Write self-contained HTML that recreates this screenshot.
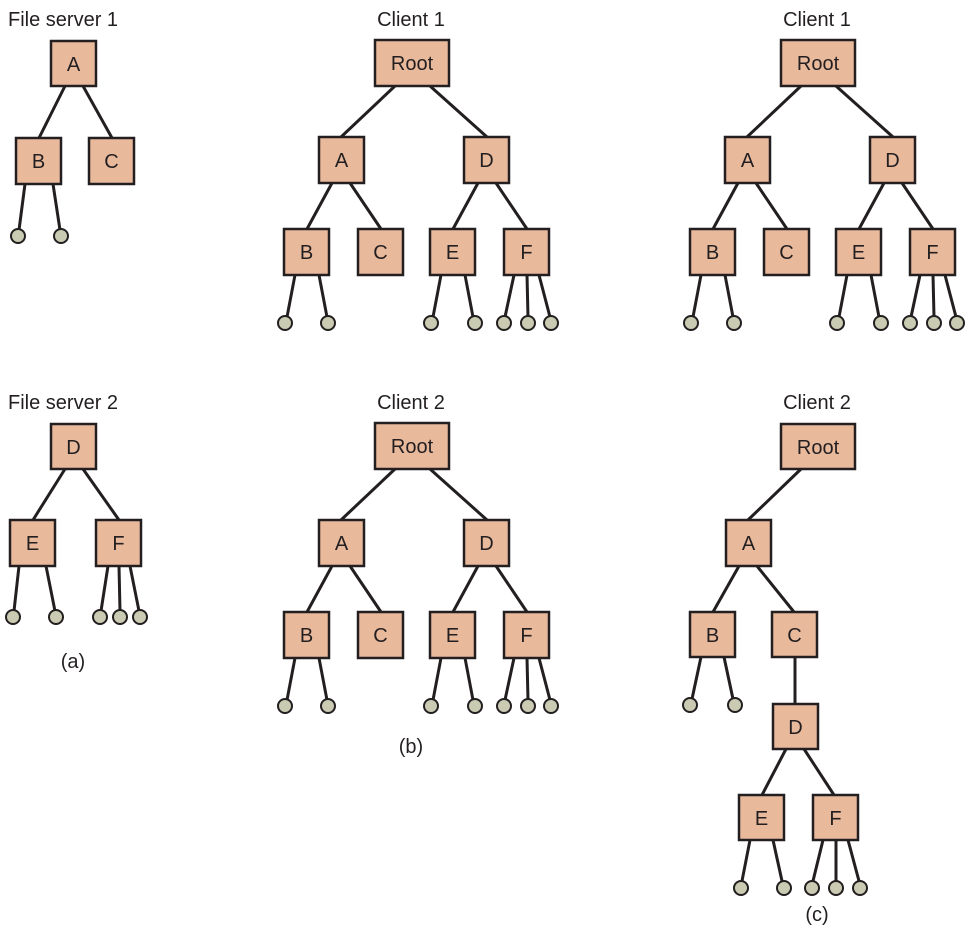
<!DOCTYPE html>
<html><head><meta charset="utf-8"><style>
html,body{margin:0;padding:0;background:#fff;}
svg{display:block;}
text{font-family:"Liberation Sans",sans-serif;font-size:20px;fill:#231f20;}
.b{fill:#e9b99c;stroke:#231f20;stroke-width:2.5;}
.l{stroke:#231f20;stroke-width:3;fill:none;}
.c{fill:#c9ccb2;stroke:#231f20;stroke-width:2;}
.t{text-anchor:middle;}
</style></head><body>
<svg width="970" height="940" viewBox="0 0 970 940" xmlns="http://www.w3.org/2000/svg">
<text x="8" y="26">File server 1</text>
<g>
<line class="l" x1="65" y1="86" x2="39" y2="138"/><line class="l" x1="83" y1="86" x2="112" y2="138"/>
<line class="l" x1="25" y1="184" x2="19" y2="230"/><line class="l" x1="53" y1="184" x2="60" y2="230"/>
<rect class="b" x="51" y="41" width="45" height="45"/><text class="t" x="73.5" y="71">A</text>
<rect class="b" x="16" y="138" width="45" height="46"/><text class="t" x="38.5" y="168">B</text>
<rect class="b" x="89" y="138" width="45" height="46"/><text class="t" x="111.5" y="168">C</text>
<circle class="c" cx="18" cy="236" r="7"/><circle class="c" cx="61" cy="236" r="7"/>
</g>
<text x="8" y="409">File server 2</text>
<g>
<line class="l" x1="65" y1="469" x2="33" y2="520"/><line class="l" x1="83" y1="469" x2="119" y2="520"/>
<line class="l" x1="19" y1="566" x2="14" y2="611"/><line class="l" x1="46" y1="566" x2="55" y2="611"/>
<line class="l" x1="108" y1="566" x2="101" y2="611"/><line class="l" x1="119" y1="566" x2="120" y2="611"/><line class="l" x1="130" y1="566" x2="139" y2="611"/>
<rect class="b" x="51" y="424" width="45" height="45"/><text class="t" x="73.5" y="454">D</text>
<rect class="b" x="10" y="520" width="45" height="46"/><text class="t" x="32.5" y="550">E</text>
<rect class="b" x="96" y="520" width="45" height="46"/><text class="t" x="118.5" y="550">F</text>
<circle class="c" cx="13" cy="617" r="7"/><circle class="c" cx="56" cy="617" r="7"/>
<circle class="c" cx="100" cy="617" r="7"/><circle class="c" cx="120" cy="617" r="7"/><circle class="c" cx="140" cy="617" r="7"/>
</g>
<text class="t" x="73" y="668">(a)</text>

<text class="t" x="411" y="26">Client 1</text>
<g>
<line class="l" x1="395" y1="86" x2="341" y2="137"/><line class="l" x1="430" y1="86" x2="487" y2="137"/>
<line class="l" x1="332" y1="183" x2="307" y2="229"/><line class="l" x1="350" y1="183" x2="381" y2="229"/>
<line class="l" x1="478" y1="183" x2="453" y2="229"/><line class="l" x1="496" y1="183" x2="527" y2="229"/>
<line class="l" x1="295" y1="275" x2="287" y2="317"/><line class="l" x1="319" y1="275" x2="327" y2="317"/>
<line class="l" x1="441" y1="275" x2="433" y2="317"/><line class="l" x1="465" y1="275" x2="473" y2="317"/>
<line class="l" x1="514" y1="275" x2="505" y2="317"/><line class="l" x1="527" y1="275" x2="528" y2="317"/><line class="l" x1="539" y1="275" x2="550" y2="317"/>
<rect class="b" x="375" y="40" width="74" height="46"/><text class="t" x="412" y="70">Root</text>
<rect class="b" x="319" y="137" width="45" height="46"/><text class="t" x="341.5" y="167">A</text>
<rect class="b" x="464" y="137" width="45" height="46"/><text class="t" x="486.5" y="167">D</text>
<rect class="b" x="284" y="229" width="45" height="46"/><text class="t" x="306.5" y="259">B</text>
<rect class="b" x="358" y="229" width="45" height="46"/><text class="t" x="380.5" y="259">C</text>
<rect class="b" x="430" y="229" width="45" height="46"/><text class="t" x="452.5" y="259">E</text>
<rect class="b" x="504" y="229" width="45" height="46"/><text class="t" x="526.5" y="259">F</text>
<circle class="c" cx="285" cy="323" r="7"/><circle class="c" cx="328" cy="323" r="7"/>
<circle class="c" cx="431" cy="323" r="7"/><circle class="c" cx="475" cy="323" r="7"/>
<circle class="c" cx="504" cy="323" r="7"/><circle class="c" cx="528" cy="323" r="7"/><circle class="c" cx="551" cy="323" r="7"/>
</g>
<text class="t" x="411" y="409">Client 2</text>
<g transform="translate(0,383)">
<line class="l" x1="395" y1="86" x2="341" y2="137"/><line class="l" x1="430" y1="86" x2="487" y2="137"/>
<line class="l" x1="332" y1="183" x2="307" y2="229"/><line class="l" x1="350" y1="183" x2="381" y2="229"/>
<line class="l" x1="478" y1="183" x2="453" y2="229"/><line class="l" x1="496" y1="183" x2="527" y2="229"/>
<line class="l" x1="295" y1="275" x2="287" y2="317"/><line class="l" x1="319" y1="275" x2="327" y2="317"/>
<line class="l" x1="441" y1="275" x2="433" y2="317"/><line class="l" x1="465" y1="275" x2="473" y2="317"/>
<line class="l" x1="514" y1="275" x2="505" y2="317"/><line class="l" x1="527" y1="275" x2="528" y2="317"/><line class="l" x1="539" y1="275" x2="550" y2="317"/>
<rect class="b" x="375" y="40" width="74" height="46"/><text class="t" x="412" y="70">Root</text>
<rect class="b" x="319" y="137" width="45" height="46"/><text class="t" x="341.5" y="167">A</text>
<rect class="b" x="464" y="137" width="45" height="46"/><text class="t" x="486.5" y="167">D</text>
<rect class="b" x="284" y="229" width="45" height="46"/><text class="t" x="306.5" y="259">B</text>
<rect class="b" x="358" y="229" width="45" height="46"/><text class="t" x="380.5" y="259">C</text>
<rect class="b" x="430" y="229" width="45" height="46"/><text class="t" x="452.5" y="259">E</text>
<rect class="b" x="504" y="229" width="45" height="46"/><text class="t" x="526.5" y="259">F</text>
<circle class="c" cx="285" cy="323" r="7"/><circle class="c" cx="328" cy="323" r="7"/>
<circle class="c" cx="431" cy="323" r="7"/><circle class="c" cx="475" cy="323" r="7"/>
<circle class="c" cx="504" cy="323" r="7"/><circle class="c" cx="528" cy="323" r="7"/><circle class="c" cx="551" cy="323" r="7"/>
</g>
<text class="t" x="411" y="753">(b)</text>

<text class="t" x="817" y="26">Client 1</text>
<g transform="translate(406,0)">
<line class="l" x1="395" y1="86" x2="341" y2="137"/><line class="l" x1="430" y1="86" x2="487" y2="137"/>
<line class="l" x1="332" y1="183" x2="307" y2="229"/><line class="l" x1="350" y1="183" x2="381" y2="229"/>
<line class="l" x1="478" y1="183" x2="453" y2="229"/><line class="l" x1="496" y1="183" x2="527" y2="229"/>
<line class="l" x1="295" y1="275" x2="287" y2="317"/><line class="l" x1="319" y1="275" x2="327" y2="317"/>
<line class="l" x1="441" y1="275" x2="433" y2="317"/><line class="l" x1="465" y1="275" x2="473" y2="317"/>
<line class="l" x1="514" y1="275" x2="505" y2="317"/><line class="l" x1="527" y1="275" x2="528" y2="317"/><line class="l" x1="539" y1="275" x2="550" y2="317"/>
<rect class="b" x="375" y="40" width="74" height="46"/><text class="t" x="412" y="70">Root</text>
<rect class="b" x="319" y="137" width="45" height="46"/><text class="t" x="341.5" y="167">A</text>
<rect class="b" x="464" y="137" width="45" height="46"/><text class="t" x="486.5" y="167">D</text>
<rect class="b" x="284" y="229" width="45" height="46"/><text class="t" x="306.5" y="259">B</text>
<rect class="b" x="358" y="229" width="45" height="46"/><text class="t" x="380.5" y="259">C</text>
<rect class="b" x="430" y="229" width="45" height="46"/><text class="t" x="452.5" y="259">E</text>
<rect class="b" x="504" y="229" width="45" height="46"/><text class="t" x="526.5" y="259">F</text>
<circle class="c" cx="285" cy="323" r="7"/><circle class="c" cx="328" cy="323" r="7"/>
<circle class="c" cx="431" cy="323" r="7"/><circle class="c" cx="475" cy="323" r="7"/>
<circle class="c" cx="504" cy="323" r="7"/><circle class="c" cx="528" cy="323" r="7"/><circle class="c" cx="551" cy="323" r="7"/>
</g>

<text class="t" x="817" y="409">Client 2</text>
<g>
<line class="l" x1="801" y1="469" x2="748" y2="520"/>
<line class="l" x1="739" y1="566" x2="713" y2="612"/><line class="l" x1="757" y1="566" x2="794" y2="612"/>
<line class="l" x1="701" y1="657" x2="692" y2="699"/><line class="l" x1="724" y1="657" x2="733" y2="699"/>
<line class="l" x1="795" y1="657" x2="795" y2="704"/>
<line class="l" x1="786" y1="749" x2="762" y2="795"/><line class="l" x1="804" y1="749" x2="834" y2="795"/>
<line class="l" x1="750" y1="840" x2="742" y2="881"/><line class="l" x1="773" y1="840" x2="782" y2="881"/>
<line class="l" x1="823" y1="840" x2="813" y2="881"/><line class="l" x1="836" y1="840" x2="836" y2="881"/><line class="l" x1="848" y1="840" x2="859" y2="881"/>
<rect class="b" x="781" y="424" width="74" height="45"/><text class="t" x="818" y="454">Root</text>
<rect class="b" x="726" y="520" width="45" height="46"/><text class="t" x="748.5" y="550">A</text>
<rect class="b" x="690" y="612" width="45" height="45"/><text class="t" x="712.5" y="642">B</text>
<rect class="b" x="772" y="612" width="45" height="45"/><text class="t" x="794.5" y="642">C</text>
<rect class="b" x="773" y="704" width="45" height="45"/><text class="t" x="795.5" y="734">D</text>
<rect class="b" x="739" y="795" width="45" height="45"/><text class="t" x="761.5" y="825">E</text>
<rect class="b" x="813" y="795" width="45" height="45"/><text class="t" x="835.5" y="825">F</text>
<circle class="c" cx="690" cy="705" r="7"/><circle class="c" cx="735" cy="705" r="7"/>
<circle class="c" cx="741" cy="888" r="7"/><circle class="c" cx="784" cy="888" r="7"/>
<circle class="c" cx="812" cy="888" r="7"/><circle class="c" cx="836" cy="888" r="7"/><circle class="c" cx="860" cy="888" r="7"/>
</g>
<text class="t" x="817" y="921">(c)</text>
</svg>
</body></html>
